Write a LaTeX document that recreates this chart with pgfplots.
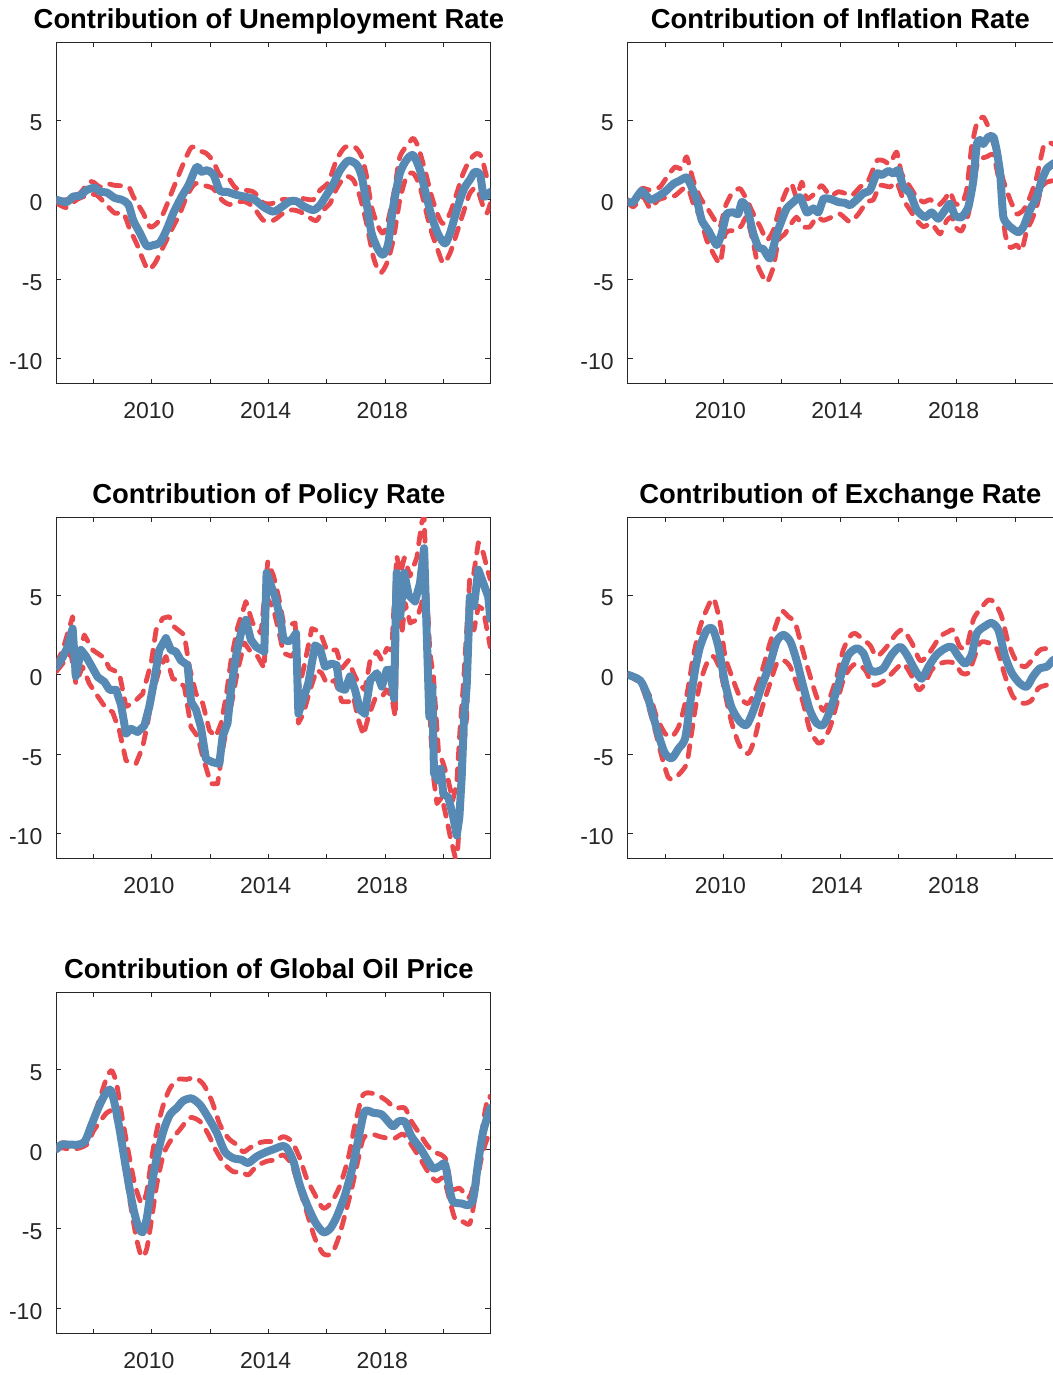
\documentclass[border=0pt]{standalone}
\usepackage{pgfplots}
\pgfplotsset{compat=1.18}
\usepackage{fontspec}
\setmainfont{Liberation Sans}
\definecolor{lineblue}{RGB}{86,138,180}
\definecolor{linered}{RGB}{233,72,77}
\definecolor{axgray}{RGB}{38,38,38}
\pgfplotsset{
  panel/.style={
    width=217pt, height=170.85pt, scale only axis, anchor=south west,
    xmin=2006.72, xmax=2021.6, ymin=-11.58, ymax=9.89,
    xtick={2008,2010,...,2020}, xticklabels={,2010,,2014,,2018,},
    ytick={-10,-5,0,5}, yticklabels={-10,-5,0,5},
    tick align=inside, major tick length=2.5pt,
    axis line style={axgray, line width=0.5pt},
    tick style={axgray, line width=0.5pt},
    xticklabel style={font=\fontsize{11.5pt}{13pt}\selectfont, text=axgray, anchor=base, inner sep=0pt, yshift=-17.5pt, xshift=-1.5pt},
    yticklabel style={font=\fontsize{11.5pt}{13pt}\selectfont, text=axgray, anchor=east, inner sep=0pt, xshift=-6.8pt, yshift=-1.5pt},
    title style={font=\fontsize{13.7pt}{16pt}\selectfont\bfseries, at={(0.5,1)}, anchor=base, yshift=0.75pt, xshift=-2.2pt, inner sep=0pt},
  },
  up/.style={linered, line width=2.4pt, dash pattern=on 5.5pt off 5pt, line cap=round, line join=round},
  mid/.style={lineblue, line width=4pt, line cap=round, line join=round},
  sm/.style={smooth, tension=0.45},
}
\begin{document}
\begin{tikzpicture}
\useasboundingbox (0,0) rectangle (526.5pt,687.5pt);
\clip (0,0) rectangle (526.5pt,687.5pt);

% ---------------- Unemployment ----------------
\begin{axis}[panel, at={(28.15pt,495.5pt)}, title={Contribution of Unemployment Rate}]
\addplot[up, sm] coordinates {
(2006.72,0) (2007.07,0) (2007.53,0.4) (2007.82,1.1) (2007.99,1.1) (2008.22,0.8) (2008.45,1.0) (2008.73,0.9)
(2009.19,0.8) (2009.36,0.2) (2009.70,-0.85) (2009.93,-1.7) (2010.16,-1.5) (2010.39,-0.85) (2010.62,0.2)
(2010.85,1.25) (2011.13,2.5) (2011.36,3.3) (2011.59,3.1) (2011.87,2.9) (2012.10,2.4) (2012.33,1.55)
(2012.62,1.35) (2012.90,0.7) (2013.47,0.5) (2013.82,-0.2) (2014.10,-0.25) (2014.39,0) (2014.73,0)
(2015.07,0.1) (2015.53,0) (2015.76,0.6) (2016.05,1.1) (2016.33,2.5) (2016.62,3.3) (2016.96,3.3)
(2017.19,2.7) (2017.36,1.45) (2017.53,-0.45) (2017.76,-1.7) (2017.93,-2.1) (2018.10,-1.3) (2018.33,0.8)
(2018.50,2.7) (2018.79,3.5) (2018.96,3.85) (2019.13,3.3) (2019.36,1.85) (2019.59,0.2) (2019.82,-1.05)
(2019.99,-1.5) (2020.22,-0.85) (2020.45,0.4) (2020.67,1.65) (2020.90,2.5) (2021.13,2.9) (2021.30,2.7)
(2021.48,1.45) (2021.60,1.65)};
\addplot[up, sm] coordinates {
(2006.72,-0.2) (2007.07,-0.5) (2007.42,0) (2007.82,0.3) (2008.10,0.3) (2008.45,-0.35) (2008.73,-0.85)
(2009.02,-0.85) (2009.25,-1.9) (2009.47,-2.75) (2009.70,-3.8) (2009.87,-4.4) (2010.10,-4.0) (2010.39,-2.95)
(2010.67,-1.9) (2010.96,-0.85) (2011.19,0.2) (2011.47,1.0) (2011.76,0.9) (2012.10,0.7) (2012.39,0)
(2012.67,-0.3) (2013.13,-0.1) (2013.47,-0.45) (2013.82,-1.3) (2014.16,-1.3) (2014.50,-0.85) (2014.79,-0.65)
(2015.07,-0.75) (2015.42,-1.15) (2015.65,-1.3) (2015.87,-0.65) (2016.10,-0.25) (2016.33,0.7) (2016.62,1.45)
(2016.90,1.25) (2017.13,0.2) (2017.36,-1.5) (2017.59,-3.6) (2017.82,-4.6) (2018.05,-4.0) (2018.27,-2.55)
(2018.50,0) (2018.73,1.45) (2018.96,1.65) (2019.19,0.8) (2019.53,-1.7) (2019.76,-2.95) (2019.99,-4.0)
(2020.22,-3.35) (2020.45,-2.1) (2020.67,-0.85) (2020.90,0.4) (2021.13,0.7) (2021.36,-0.45) (2021.48,-0.85)
(2021.60,-0.25)};
\addplot[mid, sm] coordinates {
(2006.72,0) (2007.07,-0.15) (2007.30,0.2) (2007.53,0.25) (2007.76,0.6) (2008.05,0.75) (2008.22,0.5)
(2008.45,0.45) (2008.73,0.1) (2008.96,0) (2009.19,-0.3) (2009.36,-1.3) (2009.59,-2.1) (2009.82,-2.9)
(2010.05,-2.85) (2010.27,-2.7) (2010.50,-1.9) (2010.73,-0.85) (2011.02,0.2) (2011.25,0.9) (2011.53,2.05)
(2011.70,1.75) (2011.87,1.85) (2012.10,1.6) (2012.33,0.55) (2012.56,0.5) (2012.90,0.3) (2013.47,0.05)
(2013.82,-0.45) (2014.16,-0.75) (2014.45,-0.45) (2014.73,-0.1) (2014.96,-0.1) (2015.19,-0.4) (2015.53,-0.65)
(2015.76,-0.35) (2015.99,0.3) (2016.22,1.0) (2016.45,1.85) (2016.73,2.45) (2017.02,2.2) (2017.19,1.45)
(2017.36,-0.25) (2017.53,-2.1) (2017.76,-3.15) (2017.93,-3.45) (2018.10,-2.75) (2018.27,-0.45) (2018.50,1.65)
(2018.73,2.5) (2018.96,2.8) (2019.19,1.85) (2019.36,0.6) (2019.59,-1.05) (2019.82,-2.2) (2020.05,-2.75)
(2020.22,-2.1) (2020.39,-1.05) (2020.56,0) (2020.73,0.8) (2020.90,1.25) (2021.07,1.75) (2021.25,1.55)
(2021.38,0.2) (2021.60,0.5)};
\end{axis}

% ---------------- Inflation ----------------
\begin{axis}[panel, at={(313.85pt,495.5pt)}, title={Contribution of Inflation Rate}]
\addplot[up, smooth, tension=0.3] coordinates {
(2006.72,0) (2006.91,-0.25) (2007.20,0.7) (2007.49,0.6) (2007.83,0.8) (2008.11,1.55) (2008.34,2.05)
(2008.57,1.95) (2008.74,2.7) (2008.97,1.2) (2009.20,0.15) (2009.49,-0.65) (2009.71,-1.3) (2009.89,-1.7)
(2010.06,-0.45) (2010.29,0.4) (2010.57,0.7) (2010.80,0) (2011.03,-0.9) (2011.26,-1.7) (2011.49,-2.55)
(2011.71,-1.95) (2011.94,-0.45) (2012.17,0.6) (2012.34,1.0) (2012.51,0.15) (2012.69,1.1) (2012.86,0.05)
(2013.14,0.4) (2013.37,0.9) (2013.66,0.25) (2013.94,0.5) (2014.17,0.4) (2014.40,0.25) (2014.69,0.8)
(2014.97,1.2) (2015.26,2.45) (2015.49,2.45) (2015.71,2.25) (2015.94,3.0) (2016.11,1.65) (2016.40,0.8)
(2016.63,0.15) (2016.86,-0.15) (2017.09,0) (2017.37,-0.35) (2017.60,0.05) (2017.77,0.5) (2017.94,-0.25)
(2018.17,-0.25) (2018.34,0.6) (2018.51,3.3) (2018.69,4.8) (2018.91,5.2) (2019.09,4.55) (2019.26,3.5)
(2019.43,2.45) (2019.60,1.2) (2019.83,0) (2020.06,-0.9) (2020.29,-0.65) (2020.51,0.15) (2020.74,1.4)
(2020.97,3.3) (2021.14,3.6) (2021.30,3.5) (2021.60,3.2)};
\addplot[up, smooth, tension=0.3] coordinates {
(2006.72,-0.15) (2006.91,-0.45) (2007.26,0.15) (2007.49,-0.55) (2007.77,0) (2008.06,0.15) (2008.34,0.25)
(2008.63,0.7) (2008.80,0.7) (2008.97,-0.25) (2009.20,-1.1) (2009.43,-2.55) (2009.66,-3.4) (2009.89,-4.0)
(2010.06,-2.15) (2010.23,-1.95) (2010.46,-1.95) (2010.63,-1.6) (2010.80,-1.1) (2011.03,-2.75) (2011.20,-4.25)
(2011.49,-5.2) (2011.71,-4.25) (2011.89,-2.55) (2012.11,-2.15) (2012.29,-1.6) (2012.51,-1.1) (2012.74,-1.7)
(2012.97,-1.7) (2013.20,-1.1) (2013.43,-1.3) (2013.71,-1.1) (2014.00,-0.9) (2014.34,-1.4) (2014.63,-0.9)
(2014.91,-0.15) (2015.14,0) (2015.37,0.9) (2015.71,0.8) (2015.94,1.1) (2016.17,0) (2016.40,-0.65)
(2016.63,-1.3) (2016.86,-1.7) (2017.14,-1.5) (2017.43,-2.15) (2017.66,-1.3) (2017.83,-1.1) (2018.00,-1.8)
(2018.17,-1.95) (2018.40,-0.9) (2018.57,1.0) (2018.74,2.45) (2019.03,2.7) (2019.26,2.8) (2019.49,0.8)
(2019.66,-2.15) (2019.83,-3.0) (2020.06,-2.85) (2020.23,-3.2) (2020.40,-1.95) (2020.57,-1.3) (2020.74,-0.45)
(2020.91,0.8) (2021.09,1.1) (2021.30,1.2) (2021.60,1.4)};
\addplot[mid, smooth, tension=0.3] coordinates {
(2006.72,-0.15) (2006.91,-0.15) (2007.20,0.55) (2007.49,0) (2007.71,0.15) (2008.00,0.5) (2008.29,1.0)
(2008.51,1.2) (2008.74,1.4) (2008.91,0.8) (2009.09,0) (2009.26,-1.3) (2009.49,-1.95) (2009.77,-2.85)
(2009.94,-2.15) (2010.11,-0.9) (2010.34,-0.8) (2010.51,-0.9) (2010.63,-0.15) (2010.80,-0.45) (2011.03,-2.15)
(2011.20,-3.0) (2011.37,-3.1) (2011.60,-3.7) (2011.83,-2.15) (2012.00,-1.3) (2012.17,-0.55) (2012.40,-0.15)
(2012.63,0.15) (2012.86,-0.8) (2013.09,-0.55) (2013.26,-0.8) (2013.43,0.05) (2013.66,0.05) (2013.94,-0.15)
(2014.17,-0.2) (2014.34,-0.35) (2014.57,0) (2014.80,0.4) (2015.03,0.6) (2015.26,1.65) (2015.43,1.55)
(2015.66,1.8) (2015.83,1.65) (2016.00,1.85) (2016.17,0.8) (2016.40,0.4) (2016.63,-0.65) (2016.91,-1.1)
(2017.14,-0.8) (2017.37,-1.2) (2017.60,-0.65) (2017.77,-0.25) (2017.94,-1.0) (2018.17,-1.1) (2018.40,-0.45)
(2018.57,1.2) (2018.69,3.5) (2018.80,3.75) (2018.91,3.5) (2019.09,3.95) (2019.26,3.95) (2019.37,3.1)
(2019.49,1.65) (2019.60,-1.1) (2019.83,-1.7) (2020.11,-2.05) (2020.29,-1.7) (2020.51,-0.65) (2020.74,0.15)
(2020.91,1.2) (2021.09,1.95) (2021.30,2.25) (2021.45,2.4) (2021.60,2.45)};
\end{axis}

% ---------------- Policy ----------------
\begin{axis}[panel, at={(28.15pt,258pt)}, title={Contribution of Policy Rate}]
\addplot[up] coordinates {
(2006.72,0.7) (2006.94,1.55) (2007.28,3.65) (2007.39,0.6) (2007.68,2.5) (2007.97,1.55) (2008.37,1.05)
(2008.54,0.4) (2008.88,0.1) (2009.11,-2.0) (2009.34,-1.8) (2009.68,-1.2) (2009.97,0.7) (2010.14,2.8)
(2010.37,3.55) (2010.59,3.65) (2010.77,3.0) (2011.11,2.5) (2011.28,0.5) (2011.51,-1.2) (2011.74,-1.8)
(2011.97,-3.5) (2012.19,-3.9) (2012.37,-3.05) (2012.54,-1.4) (2012.71,0.9) (2012.94,3.0) (2013.22,4.6)
(2013.45,3.25) (2013.74,2.6) (2013.97,7.1) (2014.17,6.2) (2014.34,4.9) (2014.51,3.25) (2014.74,3.15)
(2014.91,3.25) (2015.02,-0.95) (2015.19,0.3) (2015.48,2.9) (2015.76,2.7) (2015.99,1.55) (2016.33,1.55)
(2016.51,0.4) (2016.74,0.9) (2016.91,0.1) (2017.08,-0.55) (2017.30,-0.95) (2017.48,0.9) (2017.71,1.45)
(2017.88,0.9) (2018.05,1.65) (2018.22,1.55) (2018.39,7.45) (2018.53,6.4) (2018.65,7.35) (2018.85,6.2)
(2019.08,7.35) (2019.25,9.55) (2019.33,9.95) (2019.42,5.35) (2019.53,1.35) (2019.65,-0.1) (2019.82,-4.75)
(2019.99,-5.6) (2020.16,-6.65) (2020.31,-7.9) (2020.45,-6.85) (2020.56,-3.5) (2020.68,-0.55) (2020.79,2.8)
(2020.90,6.2) (2021.02,6.2) (2021.19,8.3) (2021.36,7.65) (2021.53,6.4) (2021.60,6.0)};
\addplot[up] coordinates {
(2006.72,0.2) (2006.94,0.7) (2007.22,1.35) (2007.39,-0.55) (2007.62,0.5) (2007.85,-0.55) (2008.08,-1.2)
(2008.42,-2.1) (2008.65,-2.35) (2008.88,-3.5) (2009.11,-5.4) (2009.45,-5.6) (2009.68,-4.55) (2009.85,-3.05)
(2010.02,-1.2) (2010.25,0.3) (2010.48,1.15) (2010.71,-0.25) (2010.88,-0.35) (2011.11,-0.75) (2011.34,-3.3)
(2011.57,-3.9) (2011.74,-5.15) (2012.02,-6.85) (2012.25,-6.85) (2012.42,-4.75) (2012.59,-3.05) (2012.77,-1.4)
(2012.94,0.3) (2013.17,2.0) (2013.34,1.55) (2013.62,1.15) (2013.85,0.4) (2013.93,4.9) (2014.17,4.1)
(2014.34,2.8) (2014.51,1.35) (2014.79,1.15) (2014.94,1.55) (2015.02,-3.05) (2015.19,-2.45) (2015.42,-0.95)
(2015.65,0.3) (2015.82,0.1) (2015.99,-0.55) (2016.28,-0.35) (2016.51,-1.7) (2016.74,-1.7) (2016.91,-1.4)
(2017.08,-2.85) (2017.25,-3.8) (2017.42,-2.65) (2017.65,-1.5) (2017.88,-1.4) (2018.05,-0.95) (2018.22,-1.4)
(2018.34,-2.65) (2018.42,4.7) (2018.57,2.6) (2018.68,4.5) (2018.85,3.25) (2019.08,3.45) (2019.25,4.5)
(2019.37,6.6) (2019.48,0.5) (2019.56,-3.7) (2019.65,-6.4) (2019.77,-8.1) (2019.94,-7.7) (2020.09,-8.95)
(2020.23,-10.2) (2020.40,-11.5) (2020.48,-11.05) (2020.59,-7.9) (2020.68,-4.75) (2020.79,-2.65) (2020.90,3.25)
(2021.04,2.8) (2021.19,4.3) (2021.36,4.1) (2021.53,2.4) (2021.60,1.75)};
\addplot[mid] coordinates {
(2006.72,0.5) (2006.94,1.1) (2007.11,1.75) (2007.28,2.9) (2007.39,-0.1) (2007.57,1.55) (2007.74,1.15)
(2007.97,0.4) (2008.14,-0.15) (2008.37,-0.45) (2008.54,-0.95) (2008.77,-0.95) (2008.94,-1.9) (2009.11,-3.7)
(2009.28,-3.4) (2009.51,-3.6) (2009.74,-3.2) (2009.91,-2.0) (2010.08,-0.35) (2010.25,1.55) (2010.48,2.3)
(2010.65,1.55) (2010.82,1.45) (2010.99,0.9) (2011.22,0.6) (2011.34,-1.7) (2011.51,-2.2) (2011.68,-3.3)
(2011.85,-5.3) (2012.08,-5.5) (2012.31,-5.6) (2012.42,-3.9) (2012.59,-3.05) (2012.71,-0.95) (2012.88,1.15)
(2013.05,2.6) (2013.22,3.45) (2013.39,2.2) (2013.57,1.75) (2013.85,1.45) (2013.93,6.4) (2014.14,5.3)
(2014.22,4.9) (2014.39,3.65) (2014.51,2.2) (2014.68,2.1) (2014.79,2.2) (2014.94,2.6) (2015.02,-2.45)
(2015.19,-1.5) (2015.36,-0.55) (2015.59,1.85) (2015.76,1.65) (2015.93,0.5) (2016.16,0.7) (2016.33,0.6)
(2016.45,-0.85) (2016.62,-0.95) (2016.79,-0.1) (2016.96,-0.95) (2017.13,-2.2) (2017.30,-2.45) (2017.48,-0.35)
(2017.71,0.1) (2017.88,-0.75) (2018.05,0.3) (2018.17,0.3) (2018.30,-1.5) (2018.39,6.4) (2018.51,3.65)
(2018.65,6.4) (2018.80,5.0) (2019.02,4.6) (2019.19,5.75) (2019.33,7.95) (2019.42,2.6) (2019.51,-2.65)
(2019.61,-0.75) (2019.67,-6.2) (2019.82,-6.65) (2019.90,-5.9) (2019.99,-7.5) (2020.16,-7.7) (2020.33,-8.95)
(2020.45,-10.1) (2020.54,-8.95) (2020.62,-6.4) (2020.70,-2.65) (2020.79,-0.75) (2020.90,4.9) (2021.04,4.3)
(2021.19,6.6) (2021.36,5.75) (2021.53,4.9) (2021.60,3.5)};
\end{axis}

% ---------------- Exchange ----------------
\begin{axis}[panel, at={(313.85pt,258pt)}, title={Contribution of Exchange Rate}]
\addplot[up, sm] coordinates {
(2006.72,0) (2007.14,-0.35) (2007.49,-1.4) (2007.71,-2.65) (2008.00,-3.7) (2008.23,-3.9) (2008.46,-3.3)
(2008.63,-2.25) (2008.80,-0.75) (2008.97,1.15) (2009.20,3.0) (2009.43,4.1) (2009.66,4.8) (2009.89,3.25)
(2010.06,1.15) (2010.29,-0.1) (2010.57,-1.4) (2010.86,-1.8) (2011.14,-0.75) (2011.37,0.5) (2011.60,2.0)
(2011.83,3.25) (2012.00,4.0) (2012.23,3.65) (2012.46,3.25) (2012.69,1.75) (2012.91,0.3) (2013.20,-1.4)
(2013.43,-2.25) (2013.66,-1.4) (2013.89,-0.1) (2014.11,1.55) (2014.34,2.4) (2014.51,2.6) (2014.80,2.2)
(2015.03,1.85) (2015.26,1.15) (2015.60,1.75) (2015.94,2.6) (2016.17,2.8) (2016.46,2.0) (2016.74,0.9)
(2016.97,1.15) (2017.20,1.75) (2017.43,2.4) (2017.71,2.7) (2017.89,2.8) (2018.11,1.75) (2018.34,1.75)
(2018.57,3.45) (2018.80,4.1) (2019.09,4.7) (2019.31,4.5) (2019.54,3.65) (2019.77,2.0) (2020.06,0.8)
(2020.34,0.5) (2020.57,0.9) (2020.85,1.55) (2021.14,1.65) (2021.30,1.65) (2021.60,1.9)};
\addplot[up, sm] coordinates {
(2006.72,0) (2007.14,-0.55) (2007.37,-1.6) (2007.66,-3.5) (2007.89,-5.15) (2008.11,-6.45) (2008.29,-6.55)
(2008.51,-6.2) (2008.74,-5.6) (2008.86,-4.3) (2009.03,-2.2) (2009.20,-0.55) (2009.43,0.7) (2009.66,1.15)
(2009.89,0.3) (2010.06,-1.2) (2010.29,-3.05) (2010.57,-4.5) (2010.86,-4.95) (2011.09,-3.9) (2011.31,-2.2)
(2011.60,-0.55) (2011.83,0.7) (2012.06,0.9) (2012.29,0.5) (2012.51,-0.55) (2012.74,-1.8) (2012.97,-3.5)
(2013.26,-4.3) (2013.43,-4.1) (2013.66,-3.3) (2013.89,-1.8) (2014.11,-0.35) (2014.34,0.4) (2014.57,0.7)
(2014.86,0.3) (2015.09,-0.55) (2015.26,-0.65) (2015.60,-0.25) (2015.89,0.3) (2016.17,0.7) (2016.46,-0.1)
(2016.69,-0.95) (2016.91,-0.55) (2017.14,0.3) (2017.43,0.7) (2017.71,0.8) (2017.94,0.7) (2018.17,0.1)
(2018.40,0.1) (2018.57,0.9) (2018.80,2.0) (2019.09,2.0) (2019.37,1.65) (2019.66,-0.1) (2019.94,-1.4)
(2020.29,-1.8) (2020.57,-1.6) (2020.80,-0.85) (2021.09,-0.65) (2021.30,-0.55) (2021.60,-0.3)};
\addplot[mid, sm] coordinates {
(2006.72,0) (2007.14,-0.35) (2007.37,-1.2) (2007.60,-2.65) (2007.83,-4.1) (2008.00,-4.95) (2008.23,-5.25)
(2008.46,-4.65) (2008.69,-4.0) (2008.86,-1.8) (2009.03,0.3) (2009.20,1.75) (2009.43,2.8) (2009.63,2.9)
(2009.83,1.75) (2010.06,-0.55) (2010.29,-2.1) (2010.57,-2.95) (2010.80,-3.15) (2011.03,-2.25) (2011.31,-0.75)
(2011.60,0.7) (2011.83,2.1) (2012.06,2.5) (2012.29,2.1) (2012.51,0.9) (2012.74,-0.75) (2012.97,-2.25)
(2013.20,-3.05) (2013.43,-3.15) (2013.66,-2.25) (2013.89,-0.95) (2014.06,0.1) (2014.29,1.25) (2014.57,1.65)
(2014.80,1.35) (2015.03,0.3) (2015.26,0.2) (2015.49,0.4) (2015.77,1.25) (2016.06,1.75) (2016.29,1.25)
(2016.57,0.3) (2016.80,-0.25) (2017.03,0.5) (2017.31,1.25) (2017.60,1.65) (2017.83,1.75) (2018.06,1.15)
(2018.29,0.7) (2018.51,1.25) (2018.69,2.6) (2018.97,3.05) (2019.20,3.25) (2019.43,2.8) (2019.66,1.15)
(2019.89,0.1) (2020.17,-0.55) (2020.40,-0.75) (2020.62,-0.1) (2020.85,0.4) (2021.09,0.5) (2021.30,0.9)
(2021.60,1.2)};
\end{axis}

% ---------------- Oil ----------------
\begin{axis}[panel, at={(28.15pt,20.65pt)}, title={Contribution of Global Oil Price}]
\addplot[up, sm] coordinates {
(2006.72,0) (2006.90,0.4) (2007.19,0.4) (2007.53,0.3) (2007.76,0.95) (2007.99,2.0) (2008.22,3.25)
(2008.45,4.5) (2008.62,4.95) (2008.79,4.1) (2008.96,2.2) (2009.19,-0.15) (2009.42,-2.25) (2009.65,-3.4)
(2009.82,-2.65) (2009.99,-0.55) (2010.16,1.15) (2010.39,2.8) (2010.62,3.85) (2010.90,4.4) (2011.19,4.4)
(2011.47,4.5) (2011.76,4.1) (2012.05,3.05) (2012.33,1.55) (2012.62,0.7) (2012.90,0.3) (2013.13,-0.15)
(2013.36,0.1) (2013.65,0.4) (2013.93,0.5) (2014.22,0.5) (2014.50,0.8) (2014.79,0.5) (2015.07,-0.55)
(2015.30,-1.8) (2015.59,-2.85) (2015.87,-3.7) (2016.16,-3.3) (2016.45,-2.25) (2016.73,-0.55) (2016.96,1.55)
(2017.19,3.25) (2017.36,3.55) (2017.70,3.45) (2018.05,3.05) (2018.33,2.6) (2018.67,2.6) (2018.90,1.75)
(2019.19,0.95) (2019.42,0.3) (2019.65,-0.15) (2019.93,-0.35) (2020.10,-0.75) (2020.27,-2.45) (2020.56,-2.45)
(2020.85,-3.05) (2021.02,-2.25) (2021.25,0.3) (2021.42,2.4) (2021.54,3.35) (2021.60,3.25)};
\addplot[up, sm] coordinates {
(2006.72,0) (2006.90,0.1) (2007.30,0) (2007.76,0.3) (2007.99,1.15) (2008.22,1.75) (2008.45,2.3)
(2008.67,2.4) (2008.85,1.35) (2009.02,-0.55) (2009.25,-3.3) (2009.47,-5.6) (2009.65,-6.75) (2009.82,-6.25)
(2009.99,-4.35) (2010.16,-2.25) (2010.39,-0.35) (2010.62,0.5) (2010.96,1.25) (2011.30,2.0) (2011.65,1.75)
(2011.93,0.95) (2012.22,-0.15) (2012.50,-0.95) (2012.79,-1.4) (2013.07,-1.4) (2013.30,-1.6) (2013.59,-1.05)
(2013.93,-0.75) (2014.22,-0.65) (2014.50,-0.35) (2014.79,-0.95) (2015.02,-2.25) (2015.30,-3.9) (2015.59,-5.6)
(2015.87,-6.55) (2016.16,-6.55) (2016.39,-5.6) (2016.62,-4.1) (2016.85,-2.45) (2017.08,-0.55) (2017.25,0.7)
(2017.53,0.95) (2017.82,0.8) (2018.10,0.7) (2018.33,0.7) (2018.62,0.95) (2018.96,0.1) (2019.25,-0.75)
(2019.53,-1.6) (2019.76,-2.0) (2019.99,-1.8) (2020.16,-2.85) (2020.39,-4.35) (2020.67,-4.55) (2020.90,-4.65)
(2021.07,-3.05) (2021.25,-0.95) (2021.42,0.3) (2021.60,1.15)};
\addplot[mid, sm] coordinates {
(2006.72,0) (2006.90,0.3) (2007.19,0.3) (2007.47,0.3) (2007.70,0.5) (2007.93,1.55) (2008.16,2.6)
(2008.39,3.45) (2008.58,3.75) (2008.73,2.8) (2008.90,1.15) (2009.13,-1.4) (2009.36,-3.7) (2009.53,-4.85)
(2009.68,-5.2) (2009.82,-4.35) (2009.99,-2.25) (2010.16,-0.55) (2010.39,1.15) (2010.62,2.2) (2010.85,2.6)
(2011.07,3.05) (2011.36,3.2) (2011.65,2.8) (2011.93,2.0) (2012.22,1.05) (2012.50,-0.15) (2012.79,-0.55)
(2013.07,-0.65) (2013.30,-0.85) (2013.59,-0.45) (2013.93,-0.15) (2014.16,0) (2014.45,0.2) (2014.62,0.1)
(2014.85,-0.75) (2015.07,-2.25) (2015.30,-3.4) (2015.59,-4.55) (2015.87,-5.2) (2016.10,-5.0) (2016.33,-4.25)
(2016.62,-2.85) (2016.90,-0.95) (2017.13,1.15) (2017.30,2.4) (2017.59,2.3) (2017.87,2.2) (2018.10,1.75)
(2018.27,1.45) (2018.45,1.75) (2018.67,1.75) (2018.90,0.8) (2019.19,0.1) (2019.47,-0.75) (2019.65,-1.2)
(2019.87,-1.05) (2020.05,-0.95) (2020.22,-2.65) (2020.33,-3.3) (2020.62,-3.4) (2020.85,-3.5) (2021.02,-3.05)
(2021.19,-0.75) (2021.36,1.15) (2021.60,2.6)};
\end{axis}
\end{tikzpicture}
\end{document}
